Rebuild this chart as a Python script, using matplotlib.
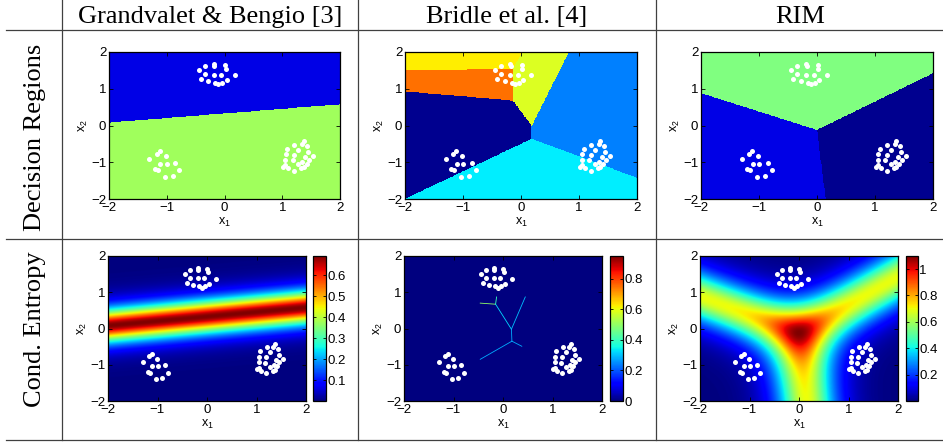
import numpy as np
import matplotlib
matplotlib.use('Agg')
import matplotlib.pyplot as plt
from matplotlib.colors import ListedColormap, Normalize
from matplotlib.lines import Line2D

plt.rcParams['font.family'] = ['Liberation Sans', 'DejaVu Sans']
plt.rcParams['font.size'] = 8

# --- the three clusters of unlabeled points ---
top_x = [-0.44, -0.34, -0.19, -0.18, 0.01, 0.02, -0.34, -0.19, -0.06, 0.18, -0.41, -0.28, -0.16, -0.11, -0.04, 0.04]
top_y = [1.50, 1.62, 1.68, 1.62, 1.65, 1.55, 1.39, 1.38, 1.38, 1.37, 1.26, 1.20, 1.16, 1.13, 1.16, 1.24]
left_x = [-1.30, -1.17, -1.12, -1.02, -1.11, -1.00, -0.85, -1.20, -1.16, -0.78, -1.03, -0.90]
left_y = [-0.92, -0.77, -0.69, -0.83, -1.04, -1.04, -1.01, -1.19, -1.22, -1.22, -1.39, -1.37]
right_x = [1.37, 1.34, 1.21, 1.08, 1.43, 1.27, 1.06, 1.45, 1.20, 1.54, 1.40, 1.05, 1.18, 1.46, 1.28, 1.35,
           1.05, 1.02, 1.10, 1.42, 1.33, 1.20, 1.37]
right_y = [-0.43, -0.50, -0.52, -0.63, -0.57, -0.66, -0.78, -0.72, -0.79, -0.84, -0.87, -0.93, -0.95, -0.93,
           -1.05, -1.00, -1.08, -1.12, -1.17, -1.04, -1.17, -1.23, -1.14]

# --- linear softmax classifiers ---
# Grandvalet & Bengio: 2 classes (top, bottom)
gb_w = [[-0.707, 5.654], [0.0, 0.0]]
gb_b = [-1.87, 0.0]
gb_colors = ['#0000e6', '#a0ff5c']

# Bridle et al.: 6 classes (navy, orange, yellow, yellow-green, blue, cyan)
br_w = [[0.0, 0.0], [0.043, 0.32], [0.037, 0.5486], [0.68, 0.32], [1.68, 0.0], [0.943, -1.259]]
br_b = [0.0, -0.2116, -0.5667, -0.1224, -0.311, -0.628]
br_colors = ['#00008f', '#ff7000', '#ffee00', '#dcff22', '#0080ff', '#00eeff']
# thin entropy ridges visible in the Bridle panel
br_seg_x0 = [-0.46, -0.15, -0.15, 0.17, 0.17, 0.18, 0.18]
br_seg_y0 = [0.70, 0.67, 0.67, -0.02, -0.02, -0.35, -0.35]
br_seg_x1 = [-0.15, -0.13, 0.17, 0.45, 0.18, -0.46, 0.38]
br_seg_y1 = [0.67, 0.87, -0.02, 0.87, -0.35, -0.85, -0.49]
br_seg_h = [0.5, 0.4, 0.32, 0.3, 0.28, 0.28, 0.28]
br_hmax = 0.95

# RIM: 3 classes (top, left, right)
rim_w = [[0.0, 2.0], [-1.8, -1.6], [2.508, -1.256]]
rim_b = [0.0, -0.432, -0.39]
rim_colors = ['#80ff80', '#0000e6', '#00008f']

titles = ['Grandvalet & Bengio [3]', 'Bridle et al. [4]', 'RIM']
row_labels = ['Decision Regions', 'Cond. Entropy']
cb_ticks = [[0.1, 0.2, 0.3, 0.4, 0.5, 0.6], [0, 0.2, 0.4, 0.6, 0.8], [0.2, 0.4, 0.6, 0.8, 1]]
cb_labels = [['0.1', '0.2', '0.3', '0.4', '0.5', '0.6'], ['0', '0.2', '0.4', '0.6', '0.8'],
             ['0.2', '0.4', '0.6', '0.8', '1']]

g = np.linspace(-2, 2, 400)
X, Y = np.meshgrid(g, g)


def logits(w, b):
    w = np.array(w)
    return X[..., None] * w[:, 0] + Y[..., None] * w[:, 1] + np.array(b)


def entropy(f):
    f = f - f.max(axis=-1, keepdims=True)
    p = np.exp(f)
    p /= p.sum(axis=-1, keepdims=True)
    return -(p * np.log(np.clip(p, 1e-300, None))).sum(axis=-1)


W, H = 943, 442
fig = plt.figure(figsize=(9.43, 4.42), dpi=100)


def px_axes(x0, y0, x1, y1):
    return fig.add_axes([x0 / W, 1 - y1 / H, (x1 - x0) / W, (y1 - y0) / H])


def style(ax):
    ax.set_xlim(-2, 2)
    ax.set_ylim(-2, 2)
    ax.set_xticks([-2, -1, 0, 1, 2])
    ax.set_yticks([-2, -1, 0, 1, 2])
    ax.tick_params(direction='in', length=3, width=0.6, top=True, right=True, pad=2, labelsize=9.5)
    for s in ax.spines.values():
        s.set_linewidth(0.9)
    ax.set_xlabel(r'$\mathregular{x_1}$', fontsize=9, labelpad=1.5)
    ax.set_ylabel(r'$\mathregular{x_2}$', fontsize=9, labelpad=1)


def dots(ax):
    for xs, ys in [(top_x, top_y), (left_x, left_y), (right_x, right_y)]:
        ax.plot(xs, ys, 'o', color='white', ms=3.6, mec='none')


ext = [-2, 2, -2, 2]
top_cols = [(109, 340), (405, 637), (701, 933)]
bot_cols = [(108, 306, 313, 326), (404, 602, 610, 623), (700, 898, 906, 918)]
models = [(gb_w, gb_b, gb_colors), (br_w, br_b, br_colors), (rim_w, rim_b, rim_colors)]

# decision regions
for (x0, x1), (w, b, cols) in zip(top_cols, models):
    ax = px_axes(x0, 52, x1, 199)
    lab = logits(w, b).argmax(axis=-1)
    ax.imshow(lab, extent=ext, origin='lower', aspect='auto', cmap=ListedColormap(cols),
              vmin=-0.5, vmax=len(cols) - 0.5, interpolation='nearest')
    dots(ax)
    style(ax)

# conditional entropy
for i, ((x0, x1, c0, c1), (w, b, cols)) in enumerate(zip(bot_cols, models)):
    ax = px_axes(x0, 256, x1, 401)
    if i == 1:
        ent = np.zeros_like(X)
        norm = Normalize(0, br_hmax)
    else:
        ent = entropy(logits(w, b))
        norm = Normalize(ent.min(), ent.max())
    im = ax.imshow(ent, extent=ext, origin='lower', aspect='auto', cmap='jet', norm=norm,
                   interpolation='bilinear')
    if i == 1:
        for k in range(len(br_seg_h)):
            ax.plot([br_seg_x0[k], br_seg_x1[k]], [br_seg_y0[k], br_seg_y1[k]],
                    color=plt.cm.jet(norm(br_seg_h[k])), lw=0.6)
    dots(ax)
    style(ax)
    cax = px_axes(c0, 256, c1, 401)
    cb = fig.colorbar(im, cax=cax)
    cb.set_ticks(cb_ticks[i])
    cb.set_ticklabels(cb_labels[i])
    cb.ax.tick_params(direction='in', length=2.5, width=0.6, left=True, right=True, pad=1, labelsize=9.5)
    cb.outline.set_linewidth(0.9)

# table frame
lc = '#404040'
for yy in [30, 239, 440]:
    fig.add_artist(Line2D([6 / W, 1], [1 - yy / H] * 2, color=lc, lw=0.9))
for xx in [62, 358, 656]:
    fig.add_artist(Line2D([xx / W] * 2, [1 - 440 / H, 1], color=lc, lw=0.9))

serif = ['Liberation Serif', 'DejaVu Serif']
for t, cx in zip(titles, [210, 507, 800]):
    fig.text(cx / W, 1 - 23 / H, t, ha='center', va='baseline', fontsize=19, family=serif)
for t, cy in zip(row_labels, [137, 329]):
    fig.text(35 / W, 1 - cy / H, t, ha='center', va='center', rotation=90, fontsize=19, family=serif)

fig.savefig('out.png', dpi=100)
